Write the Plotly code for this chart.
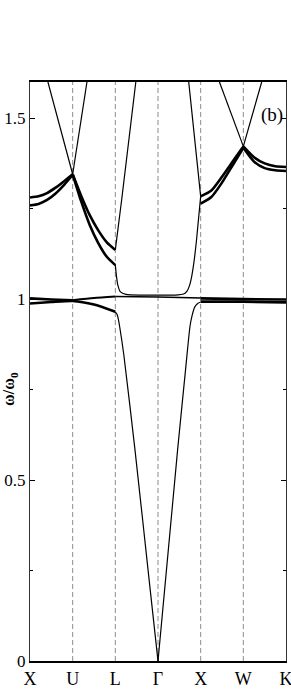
import plotly.graph_objects as go

# ---- axis / labels ----
tick_pos = [0, 1, 2, 3, 4, 5, 6]
tick_text = ["X", "U", "L", "Γ", "X", "W", "K"]
y_tickvals = [0, 0.5, 1, 1.5]
y_ticktext = ["0", "0.5", "1", "1.5"]
y_minor = [0.25, 0.75, 1.25]

# ---- upper photonic bands (thick) ----
xu_up_k = [0, 0.2, 0.4, 0.6, 0.8, 1.0]
xu_up_w = [1.281, 1.284, 1.293, 1.308, 1.326, 1.345]
xu_lo_k = [0, 0.2, 0.4, 0.6, 0.8, 1.0]
xu_lo_w = [1.259, 1.263, 1.274, 1.292, 1.316, 1.343]

ul_up_k = [1.0, 1.2, 1.4, 1.6, 1.8, 2.0]
ul_up_w = [1.345, 1.285, 1.232, 1.19, 1.157, 1.136]
ul_lo_k = [1.0, 1.2, 1.4, 1.6, 1.8, 2.0]
ul_lo_w = [1.345, 1.27, 1.205, 1.155, 1.117, 1.094]

xw_up_k = [4.0, 4.25, 4.5, 4.75, 5.0]
xw_up_w = [1.284, 1.300, 1.338, 1.380, 1.422]
xw_lo_k = [4.0, 4.25, 4.5, 4.75, 5.0]
xw_lo_w = [1.264, 1.282, 1.322, 1.370, 1.418]

wk_up_k = [5.0, 5.25, 5.5, 5.75, 6.0]
wk_up_w = [1.422, 1.392, 1.375, 1.367, 1.365]
wk_lo_k = [5.0, 5.25, 5.5, 5.75, 6.0]
wk_lo_w = [1.418, 1.380, 1.362, 1.356, 1.354]

# ---- straight (folded light-line) bands (thin) ----
u_cross1_k = [0.42, 1.0]
u_cross1_w = [1.6, 1.345]
u_cross2_k = [1.0, 1.335]
u_cross2_w = [1.345, 1.6]
w_cross1_k = [4.44, 5.0]
w_cross1_w = [1.6, 1.422]
w_cross2_k = [5.0, 5.43]
w_cross2_w = [1.422, 1.6]
l_fold_k = [2.0, 2.15, 2.48]
l_fold_w = [1.136, 1.276, 1.6]
x_fold_k = [3.72, 4.0]
x_fold_w = [1.6, 1.284]

# ---- polariton branches (thin) ----
lp_left_k = [2.0, 2.04, 2.07, 2.1, 2.2, 2.46, 2.81, 3.0]
lp_left_w = [0.965, 0.958, 0.945, 0.925, 0.845, 0.584, 0.205, 0.0]
lp_right_k = [3.0, 3.46, 3.65, 3.75, 3.8, 3.86, 3.93, 4.0]
lp_right_w = [0.0, 0.584, 0.81, 0.925, 0.955, 0.978, 0.988, 0.992]
up_k = [2.0, 2.03, 2.06, 2.12, 2.25, 2.6, 3.0, 3.4, 3.6, 3.68, 3.74, 3.79, 3.84, 3.9, 4.0]
up_w = [1.094, 1.06, 1.038, 1.02, 1.013, 1.011, 1.011, 1.011, 1.014, 1.022, 1.038, 1.063, 1.1, 1.16, 1.284]

# ---- flat bands near the resonance ----
flat_top_xu_k = [0, 0.5, 1.0]
flat_top_xu_w = [1.002, 0.999, 0.997]
flat_top_ul_k = [1.0, 1.5, 2.0]
flat_top_ul_w = [0.997, 1.003, 1.007]
flat_top_lx_k = [2.0, 3.0, 4.0]
flat_top_lx_w = [1.007, 1.006, 1.003]
flat_top_xk_k = [4.0, 5.0, 6.0]
flat_top_xk_w = [1.002, 1.0, 0.999]
flat_low_xl_k = [0, 0.5, 1.0, 1.5, 2.0]
flat_low_xl_w = [0.988, 0.992, 0.995, 0.985, 0.965]
flat_low_xk_k = [4.0, 5.0, 6.0]
flat_low_xk_w = [0.993, 0.993, 0.991]

THICK = 2.6
THIN = 1.2

bands = [
    (xu_up_k, xu_up_w, THICK), (xu_lo_k, xu_lo_w, THICK),
    (ul_up_k, ul_up_w, THICK), (ul_lo_k, ul_lo_w, THICK),
    (xw_up_k, xw_up_w, THICK), (xw_lo_k, xw_lo_w, THICK),
    (wk_up_k, wk_up_w, THICK), (wk_lo_k, wk_lo_w, THICK),
    (u_cross1_k, u_cross1_w, THIN), (u_cross2_k, u_cross2_w, THIN),
    (w_cross1_k, w_cross1_w, THIN), (w_cross2_k, w_cross2_w, THIN),
    (l_fold_k, l_fold_w, THIN), (x_fold_k, x_fold_w, THIN),
    (lp_left_k, lp_left_w, THIN), (lp_right_k, lp_right_w, THIN),
    (up_k, up_w, THIN),
    (flat_top_xu_k, flat_top_xu_w, THICK), (flat_top_ul_k, flat_top_ul_w, 2.0),
    (flat_top_lx_k, flat_top_lx_w, 1.5), (flat_top_xk_k, flat_top_xk_w, THICK),
    (flat_low_xl_k, flat_low_xl_w, THICK), (flat_low_xk_k, flat_low_xk_w, THICK),
]

fig = go.Figure()
for k, w, lw in bands:
    fig.add_trace(go.Scatter(x=k, y=w, mode="lines",
                             line=dict(color="black", width=lw, shape="spline", smoothing=0.6),
                             hoverinfo="skip", showlegend=False))

# dashed verticals at interior symmetry points
for p in tick_pos[1:-1]:
    fig.add_shape(type="line", xref="x", yref="paper", x0=p, x1=p, y0=0, y1=1,
                  line=dict(color="#8c8c8c", width=1, dash="5px,3px"), layer="below")

serif = "Liberation Serif, Times New Roman, serif"

fig.add_annotation(text="(b)", xref="paper", yref="paper", x=0.947, y=0.943,
                   xanchor="center", yanchor="middle",
                   showarrow=False, font=dict(family=serif, size=19, color="black"))
fig.add_annotation(text="<b>ω/ω<sub>0</sub></b>", xref="paper", yref="paper",
                   x=-0.078, y=0.47, xanchor="center", yanchor="middle",
                   textangle=-90, showarrow=False,
                   font=dict(family=serif, size=16, color="black"))

fig.update_layout(
    width=291, height=695,
    margin=dict(l=30, r=5, t=82, b=34, autoexpand=False),
    paper_bgcolor="white", plot_bgcolor="white",
    font=dict(family=serif, color="black"),
    xaxis=dict(range=[0, 6], tickvals=tick_pos, ticktext=tick_text, automargin=False,
               ticklabeloverflow="allow",
               showgrid=False, zeroline=False, showline=True, linecolor="black",
               linewidth=2, mirror=True, ticks="", tickfont=dict(size=18)),
    yaxis=dict(range=[0, 1.6], tickvals=y_tickvals, ticktext=y_ticktext, automargin=False,
               ticklabeloverflow="allow",
               showgrid=False, zeroline=False, showline=True, linecolor="#333",
               linewidth=1, mirror="ticks", ticks="inside", ticklen=5,
               tickcolor="black", tickfont=dict(size=17),
               minor=dict(tickvals=y_minor, ticks="inside", ticklen=3, tickcolor="black",
                          showgrid=False)),
)

fig.write_html("out.html", config={"displayModeBar": False},
               post_script="document.body.style.margin='0';document.body.style.overflow='hidden';")
